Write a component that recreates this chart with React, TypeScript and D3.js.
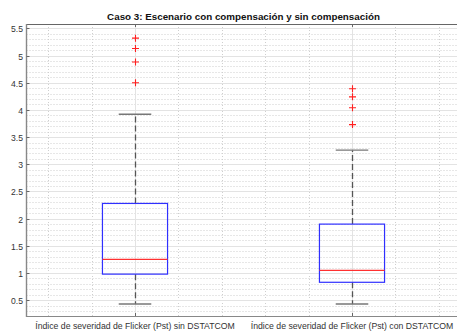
import React, { useEffect, useRef } from 'react';
import * as d3 from 'd3';

const categories = [
  'Índice de severidad de Flicker (Pst) sin DSTATCOM',
  'Índice de severidad de Flicker (Pst) con DSTATCOM',
];
const whiskerLow = [0.43, 0.43];
const q1 = [0.98, 0.83];
const median = [1.25, 1.05];
const q3 = [2.28, 1.9];
const whiskerHigh = [3.92, 3.26];
const outliers = [
  [4.5, 4.88, 5.13, 5.32],
  [3.73, 4.04, 4.24, 4.39],
];
const yTicks = [0.5, 1, 1.5, 2, 2.5, 3, 3.5, 4, 4.5, 5, 5.5];

const W = 457;
const H = 331;

export default function App() {
  const ref = useRef<SVGSVGElement>(null);

  useEffect(() => {
    const svg = d3.select(ref.current);
    svg.selectAll('*').remove();

    const left = 26.5, right = 460.5, top = 24, bottom = 316;
    const x = d3.scaleLinear().domain([0.5, 2.5]).range([left, right]);
    const y = d3.scaleLinear().domain([0.21, 5.58]).range([bottom, top]);

    svg.append('rect').attr('width', W).attr('height', H).attr('fill', '#fff');

    const g = svg.append('g');

    // minor grid
    const yMinor = d3.range(3, 56).map((d) => d / 10).filter((d) => Math.abs(d * 2 - Math.round(d * 2)) > 1e-6);
    g.selectAll('.ymin').data(yMinor).enter().append('line')
      .attr('x1', left).attr('x2', right)
      .attr('y1', (d) => Math.round(y(d)) + 0.5).attr('y2', (d) => Math.round(y(d)) + 0.5)
      .style('stroke', '#cfcfcf').style('stroke-width', 1).style('stroke-dasharray', '1,2');
    const xMinor = [0.6, 0.8, 1.2, 1.4, 1.6, 1.8, 2.2, 2.4];
    g.selectAll('.xmin').data(xMinor).enter().append('line')
      .attr('y1', top).attr('y2', bottom)
      .attr('x1', (d) => Math.round(x(d)) + 0.5).attr('x2', (d) => Math.round(x(d)) + 0.5)
      .style('stroke', '#cfcfcf').style('stroke-width', 1).style('stroke-dasharray', '1,2');

    // major grid
    g.selectAll('.ymaj').data(yTicks).enter().append('line')
      .attr('x1', left).attr('x2', right)
      .attr('y1', (d) => Math.round(y(d)) + 0.5).attr('y2', (d) => Math.round(y(d)) + 0.5)
      .style('stroke', '#e3e3e3').style('stroke-width', 1);
    g.selectAll('.xmaj').data([1, 2]).enter().append('line')
      .attr('y1', top).attr('y2', bottom)
      .attr('x1', (d) => Math.round(x(d)) + 0.5).attr('x2', (d) => Math.round(x(d)) + 0.5)
      .style('stroke', '#e3e3e3').style('stroke-width', 1);

    // axes box
    svg.append('line').attr('x1', left).attr('x2', right).attr('y1', top + 0.5).attr('y2', top + 0.5)
      .style('stroke', '#666').style('stroke-width', 1);
    svg.append('line').attr('x1', left).attr('x2', right).attr('y1', bottom + 0.5).attr('y2', bottom + 0.5)
      .style('stroke', '#888').style('stroke-width', 1.2);
    svg.append('line').attr('x1', left).attr('x2', left).attr('y1', top).attr('y2', bottom + 1)
      .style('stroke', '#888').style('stroke-width', 1.4);

    // y ticks & labels
    yTicks.forEach((t) => {
      const yy = Math.round(y(t)) + 0.5;
      svg.append('line').attr('x1', left).attr('x2', left + 3).attr('y1', yy).attr('y2', yy)
        .style('stroke', '#666').style('stroke-width', 1);
      svg.append('text').attr('x', 23).attr('y', yy + 3)
        .attr('text-anchor', 'end')
        .style('font-family', 'Liberation Sans, Arial, sans-serif')
        .style('font-size', '8.6px').style('fill', '#333')
        .text(String(t));
    });

    // x ticks & labels
    categories.forEach((c, i) => {
      const xx = Math.round(x(i + 1)) + 0.5;
      svg.append('line').attr('x1', xx).attr('x2', xx).attr('y1', bottom).attr('y2', bottom - 3)
        .style('stroke', '#666');
      svg.append('line').attr('x1', xx).attr('x2', xx).attr('y1', top).attr('y2', top + 3)
        .style('stroke', '#666');
      svg.append('text').attr('x', x(i + 1)).attr('y', 328.5)
        .attr('text-anchor', 'middle')
        .style('font-family', 'Liberation Sans, Arial, sans-serif')
        .style('font-size', '8.7px').style('fill', '#333')
        .text(c);
    });

    // boxes
    const boxHalf = 0.15;
    const capHalf = 0.075;
    categories.forEach((_, i) => {
      const c = i + 1;
      const cx = Math.round(x(c)) + 0.5;
      // whiskers
      g.append('line').attr('x1', cx).attr('x2', cx).attr('y1', y(q3[i])).attr('y2', y(whiskerHigh[i]))
        .style('stroke', '#555').style('stroke-width', 1.3).style('stroke-dasharray', '6,3');
      g.append('line').attr('x1', cx).attr('x2', cx).attr('y1', y(q1[i])).attr('y2', y(whiskerLow[i]))
        .style('stroke', '#555').style('stroke-width', 1.3).style('stroke-dasharray', '6,3');
      [whiskerLow[i], whiskerHigh[i]].forEach((v) => {
        g.append('line').attr('x1', x(c - capHalf)).attr('x2', x(c + capHalf))
          .attr('y1', y(v)).attr('y2', y(v))
          .style('stroke', '#777').style('stroke-width', 1.4);
      });
      g.append('rect')
        .attr('x', x(c - boxHalf)).attr('width', x(c + boxHalf) - x(c - boxHalf))
        .attr('y', y(q3[i])).attr('height', y(q1[i]) - y(q3[i]))
        .attr('fill', 'none').style('stroke', '#3030ff').style('stroke-width', 1.2);
      g.append('line').attr('x1', x(c - boxHalf)).attr('x2', x(c + boxHalf))
        .attr('y1', y(median[i])).attr('y2', y(median[i]))
        .style('stroke', '#ff3030').style('stroke-width', 1.2);
      outliers[i].forEach((v) => {
        const oy = y(v);
        g.append('path')
          .attr('d', `M${cx - 3.5},${oy}H${cx + 3.5}M${cx},${oy - 3.5}V${oy + 3.5}`)
          .style('stroke', '#ff2020').style('stroke-width', 1.1).attr('fill', 'none');
      });
    });

    // title
    svg.append('text').attr('x', (left + right) / 2).attr('y', 19.5)
      .attr('text-anchor', 'middle')
      .style('font-family', 'Liberation Sans, Arial, sans-serif')
      .style('font-size', '9.8px').style('font-weight', 'bold').style('fill', '#111')
      .text('Caso 3: Escenario con compensación y sin compensación');
  }, []);

  return (
    <svg ref={ref} width={W} height={H}
      style={{ position: 'absolute', left: 0, top: 0, display: 'block' }} />
  );
}
